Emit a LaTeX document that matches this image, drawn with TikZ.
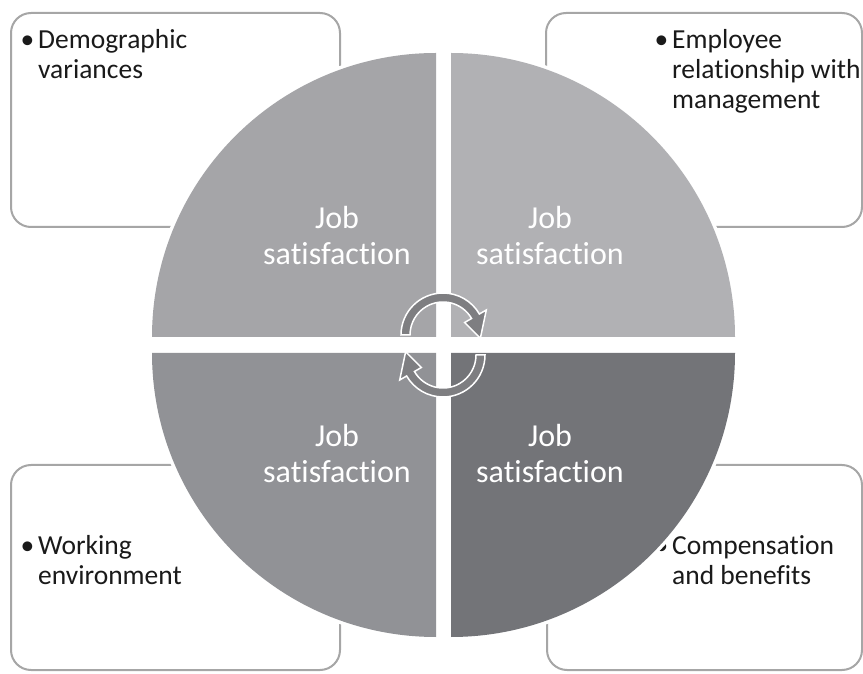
\documentclass[tikz,border=0pt]{standalone}
\usepackage{fontspec}
\setmainfont{Carlito}[Ligatures=NoCommon]
\usepackage{tikz}

\definecolor{qtl}{HTML}{A5A5A8}
\definecolor{qtr}{HTML}{B1B1B4}
\definecolor{qbl}{HTML}{919296}
\definecolor{qbr}{HTML}{737478}
\definecolor{boxline}{HTML}{A6A6A6}
\definecolor{arrowgray}{HTML}{7E7E81}
\definecolor{ink}{HTML}{1A1A1A}

\begin{document}
\begin{tikzpicture}
  [x=1pt,y=1pt,
   card/.style={draw=boxline,line width=2pt,fill=white,rounded corners=20pt},
   quad/.style={preaction={draw=white,line width=7pt}},
   cyc/.style={fill=arrowgray,draw=white,line width=1.5pt},
   item/.style={anchor=north west,inner sep=0pt,align=left,text=ink,
     font=\fontsize{27.5}{30}\selectfont},
   job/.style={inner sep=0pt,align=center,text=white,
     font=\fontsize{32}{36}\selectfont}]
  \useasboundingbox (0,0) rectangle (863,673);

  % boxes behind the circle
  \draw[card] (11,446) rectangle (340,660);
  \draw[card] (546,446) rectangle (862,660);
  \draw[card] (11,3) rectangle (340,208);
  \draw[card] (547,3) rectangle (862,208);

  \node[item] (demo) at (38,643.5) {\llap{•\hspace{4pt}}Demographic\\variances};
  \node[item] (rel) at (672,643.5) {\llap{•\hspace{4pt}}Employee\\relationship with\\management};
  \node[item] (env) at (38,138) {\llap{•\hspace{4pt}}Working\\environment};
  \node[item] (comp) at (672,138) {\llap{•\hspace{4pt}}Compensation\\and benefits};

  % quadrants
  \foreach \cx/\cy/\a/\col in {436/336/90/qtl,451/336/0/qtr,436/320/180/qbl,451/320/270/qbr}
    \fill[quad,\col] (\cx,\cy) -- ++(\a:284) arc (\a:\a+90:284) -- cycle;

  \node[job] (jtl) at (337,437) {Job\\satisfaction};
  \node[job] (jtr) at (550,437) {Job\\satisfaction};
  \node[job] (jbl) at (337,219) {Job\\satisfaction};
  \node[job] (jbr) at (550,219) {Job\\satisfaction};

  % turning arrows
  \draw[cyc,shift={(443,338)}] (180:42) arc (180:30:42) -- (30:50) -- (-5:37.5)
    -- (30:25) -- (30:33) arc (30:180:33) -- cycle;
  \draw[cyc,shift={(443,318)},rotate=180] (180:42) arc (180:30:42) -- (30:50) -- (-5:37.5)
    -- (30:25) -- (30:33) arc (30:180:33) -- cycle;
\end{tikzpicture}
\end{document}
